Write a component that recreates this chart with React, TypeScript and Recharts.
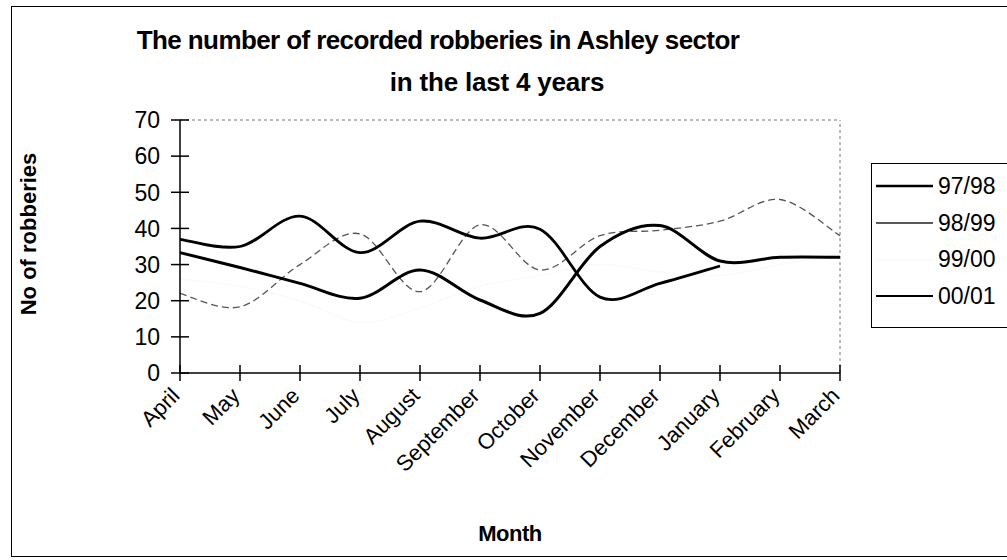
import React from 'react';
import { LineChart, Line, XAxis, YAxis, Legend, ReferenceLine } from 'recharts';

const months = ['April', 'May', 'June', 'July', 'August', 'September', 'October', 'November', 'December', 'January', 'February', 'March'];
const seriesNames = ['97/98', '98/99', '99/00', '00/01'];

const robberies9798 = [33.3, 29.2, 24.8, 20.7, 28.5, 20.2, 16.5, 35, 40.8, 31, 32, 32];
const robberies9899 = [22, 18.3, 30, 38.5, 22.5, 41, 28.5, 38, 39.5, 42, 48, 38];
const robberies9900 = [26, 24, 20, 14, 18, 24, 27, 30, 28, 27, 30, 33];
const robberies0001 = [37, 35, 43.4, 33.3, 42, 37.3, 39.8, 21, 24.8, 29.6, null, null];

const yTicks = [0, 10, 20, 30, 40, 50, 60, 70];

const data = months.map((month, i) => ({
  month,
  s9798: robberies9798[i],
  s9899: robberies9899[i],
  s9900: robberies9900[i],
  s0001: robberies0001[i],
}));

const FONT = '"Liberation Sans", Arial, Helvetica, sans-serif';

// Smoothed line like the old spreadsheet charts: Catmull-Rom segments as cubic beziers
const smoothCurve = (context: any) => {
  let pts: number[][] = [];
  return {
    areaStart() {},
    areaEnd() {},
    lineStart() {
      pts = [];
    },
    point(x: number, y: number) {
      pts.push([+x, +y]);
    },
    lineEnd() {
      if (!pts.length) return;
      context.moveTo(pts[0][0], pts[0][1]);
      for (let i = 0; i < pts.length - 1; i++) {
        const p0 = pts[Math.max(i - 1, 0)];
        const p1 = pts[i];
        const p2 = pts[i + 1];
        const p3 = pts[Math.min(i + 2, pts.length - 1)];
        context.bezierCurveTo(
          p1[0] + (p2[0] - p0[0]) / 6,
          p1[1] + (p2[1] - p0[1]) / 6,
          p2[0] - (p3[0] - p1[0]) / 6,
          p2[1] - (p3[1] - p1[1]) / 6,
          p2[0],
          p2[1]
        );
      }
    },
  };
};

const MonthTick = ({ x, y, payload }: any) => (
  <g transform={`translate(${x},${y})`}>
    <line x1={0} y1={-8} x2={0} y2={8} stroke="#000" strokeWidth={1.5} />
    <text
      transform="translate(1,24) rotate(-45)"
      textAnchor="end"
      fontFamily={FONT}
      fontSize={22}
      fill="#000"
    >
      {payload.value}
    </text>
  </g>
);

const CountTick = ({ x, y, payload }: any) => (
  <g transform={`translate(${x},${y})`}>
    <line x1={-9} y1={0} x2={9} y2={0} stroke="#000" strokeWidth={1.5} />
    <text x={-20} y={0} dy="0.36em" textAnchor="end" fontFamily={FONT} fontSize={23} fill="#000">
      {payload.value}
    </text>
  </g>
);

// legend sample strokes per series
const legendStroke: Record<string, { color: string; width: number }> = {
  '97/98': { color: '#000', width: 2.5 },
  '98/99': { color: '#222', width: 1.5 },
  '99/00': { color: '#fafafa', width: 1.5 },
  '00/01': { color: '#000', width: 2 },
};

const LegendBox = ({ payload }: any) => {
  const items = [...(payload || [])].sort(
    (a: any, b: any) => seriesNames.indexOf(a.value) - seriesNames.indexOf(b.value)
  );
  return (
    <div
      style={{
        width: 150,
        height: 165,
        border: '1.5px solid #000',
        background: '#fff',
        fontFamily: FONT,
        fontSize: 23,
        paddingTop: 4,
        boxSizing: 'border-box',
      }}
    >
      {items.map((entry: any) => (
        <div key={entry.value} style={{ height: 36.7, display: 'flex', alignItems: 'center' }}>
          <svg width={62} height={10} style={{ marginLeft: 4 }}>
            <line
              x1={0}
              y1={5}
              x2={57}
              y2={5}
              stroke={legendStroke[entry.value].color}
              strokeWidth={legendStroke[entry.value].width}
            />
          </svg>
          <span>{entry.value}</span>
        </div>
      ))}
    </div>
  );
};

export default function App() {
  return (
    <div style={{ position: 'absolute', left: 0, top: 0, width: 1007, height: 560, background: '#fff', overflow: 'hidden' }}>
      <div
        style={{
          position: 'absolute',
          left: 11,
          top: 6,
          width: 1010,
          height: 551,
          border: '1.5px solid #000',
          boxSizing: 'border-box',
        }}
      />
      <div
        style={{
          position: 'absolute',
          left: 88,
          top: 27,
          width: 700,
          textAlign: 'center',
          fontFamily: FONT,
          fontWeight: 'bold',
          fontSize: 26,
          lineHeight: '26px',
          letterSpacing: -0.6,
          whiteSpace: 'nowrap',
        }}
      >
        The number of recorded robberies in Ashley sector
      </div>
      <div
        style={{
          position: 'absolute',
          left: 197,
          top: 69,
          width: 600,
          textAlign: 'center',
          fontFamily: FONT,
          fontWeight: 'bold',
          fontSize: 26,
          lineHeight: '26px',
          letterSpacing: -0.2,
          whiteSpace: 'nowrap',
        }}
      >
        in the last 4 years
      </div>
      <LineChart width={1007} height={560} data={data} margin={{ top: 120, right: 167, bottom: 0, left: 0 }}>
        <ReferenceLine y={70} stroke="#777" strokeDasharray="3 3" />
        <ReferenceLine x="March" stroke="#777" strokeDasharray="3 3" />
        <XAxis
          dataKey="month"
          height={187}
          interval={0}
          tickSize={0}
          tickMargin={0}
          tickLine={false}
          axisLine={{ stroke: '#000', strokeWidth: 1.5 }}
          tick={<MonthTick />}
          label={{
            content: ({ viewBox }: any) => (
              <text
                x={viewBox.x + viewBox.width / 2}
                y={viewBox.y + 168}
                textAnchor="middle"
                fontFamily={FONT}
                fontWeight="bold"
                fontSize={22}
                letterSpacing={-0.5}
              >
                Month
              </text>
            ),
          }}
        />
        <YAxis
          domain={[0, 70]}
          ticks={yTicks}
          width={180}
          interval={0}
          tickSize={0}
          tickMargin={0}
          tickLine={false}
          axisLine={{ stroke: '#000', strokeWidth: 1.5 }}
          tick={<CountTick />}
          label={{
            content: () => (
              <text
                transform="translate(36,234) rotate(-90)"
                textAnchor="middle"
                fontFamily={FONT}
                fontWeight="bold"
                fontSize={22}
              >
                No of robberies
              </text>
            ),
          }}
        />
        <Legend
          layout="horizontal"
          verticalAlign="middle"
          align="center"
          wrapperStyle={{ position: 'absolute', left: 871, top: 163, width: 150, height: 165 }}
          content={<LegendBox />}
        />
        <Line
          name={seriesNames[2]}
          dataKey="s9900"
          type={smoothCurve as any}
          stroke="#fafafa"
          strokeWidth={1.5}
          dot={false}
          activeDot={false}
          isAnimationActive={false}
        />
        <Line
          name={seriesNames[1]}
          dataKey="s9899"
          type={smoothCurve as any}
          stroke="#555"
          strokeWidth={1.3}
          strokeDasharray="7 4"
          dot={false}
          activeDot={false}
          isAnimationActive={false}
        />
        <Line
          name={seriesNames[0]}
          dataKey="s9798"
          type={smoothCurve as any}
          stroke="#000"
          strokeWidth={3}
          dot={false}
          activeDot={false}
          isAnimationActive={false}
        />
        <Line
          name={seriesNames[3]}
          dataKey="s0001"
          type={smoothCurve as any}
          stroke="#000"
          strokeWidth={2.8}
          connectNulls={false}
          dot={false}
          activeDot={false}
          isAnimationActive={false}
        />
      </LineChart>
    </div>
  );
}
